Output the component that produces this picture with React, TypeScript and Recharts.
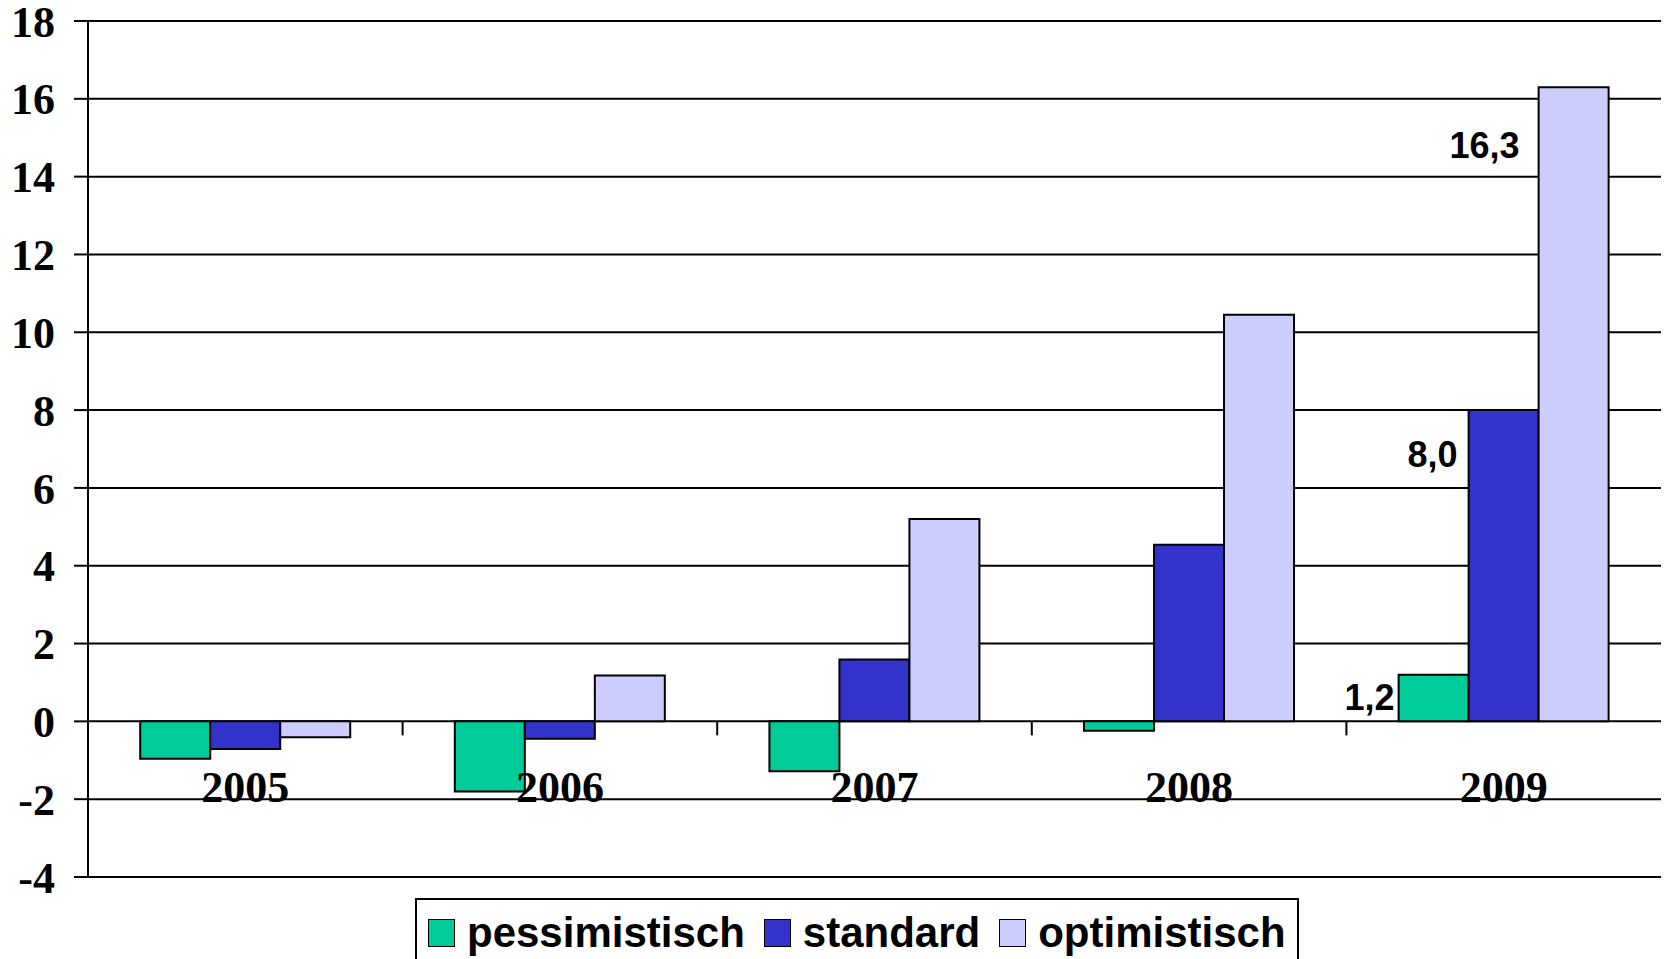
import React from "react";
import {
    BarChart,
    Bar,
    XAxis,
    YAxis,
    CartesianGrid,
    Legend,
    LabelList,
} from "recharts";

const categories = ["2005", "2006", "2007", "2008", "2009"];
const pessimistisch = [-0.96, -1.8, -1.28, -0.24, 1.2];
const standard = [-0.71, -0.45, 1.59, 4.54, 8.0];
const optimistisch = [-0.41, 1.18, 5.2, 10.45, 16.3];
const yTicks = [-4, -2, 0, 2, 4, 6, 8, 10, 12, 14, 16, 18];
const labelledYear = "2009";

const seriesNames = ["pessimistisch", "standard", "optimistisch"];
const seriesColors = ["#00CC99", "#3333CC", "#CCCCFF"];

const data = categories.map((year, i) => ({
    year,
    pessimistisch: pessimistisch[i],
    standard: standard[i],
    optimistisch: optimistisch[i],
}));

const W = 1667;
const H = 959;
const M_TOP = 21;
const M_RIGHT = 6;
const Y_AXIS_W = 88;
const X_AXIS_H = 82;
const PLOT_H = H - M_TOP - X_AXIS_H;
const PLOT_W = W - Y_AXIS_W - M_RIGHT;
const Y_MIN = -4;
const Y_MAX = 18;
const ZERO_Y = M_TOP + ((Y_MAX - 0) / (Y_MAX - Y_MIN)) * PLOT_H;

const serif = '"Liberation Serif", "Times New Roman", serif';
const sans = '"Liberation Sans", Arial, sans-serif';

// category labels sit just under the zero line, ticks mark the group borders
function YearTick(props: any) {
    const { x, payload, index } = props;
    const half = payload.offset ?? PLOT_W / categories.length / 2;
    return (
        <g>
            {index > 0 && (
                <line
                    x1={x - half}
                    x2={x - half}
                    y1={ZERO_Y}
                    y2={ZERO_Y + 14}
                    stroke="#000"
                    strokeWidth={2}
                />
            )}
            <text
                x={x}
                y={ZERO_Y + 66}
                textAnchor="middle"
                dominantBaseline="central"
                fontFamily={serif}
                fontWeight="bold"
                fontSize={44}
                fill="#000"
            >
                {payload.value}
            </text>
        </g>
    );
}

const labelPlacement = [
    { gap: 4, dy: 23 },
    { gap: 11, dy: 44 },
    { gap: 19, dy: 58 },
];

function makeValueLabel(s: number) {
    return (props: any) => {
        const { x, y, value, index } = props;
        if (categories[index] !== labelledYear) return null;
        const p = labelPlacement[s];
        return (
            <text
                x={x - p.gap}
                y={y + p.dy}
                textAnchor="end"
                dominantBaseline="central"
                fontFamily={sans}
                fontWeight="bold"
                fontSize={36}
                fill="#000"
            >
                {Number(value).toFixed(1).replace(".", ",")}
            </text>
        );
    };
}

function LegendBox() {
    return (
        <div
            style={{
                border: "2px solid #000",
                width: 884,
                height: 80,
                boxSizing: "border-box",
                display: "flex",
                alignItems: "flex-start",
                paddingLeft: 11,
                paddingTop: 16,
                background: "#fff",
            }}
        >
            {seriesNames.map((name, i) => (
                <div
                    key={name}
                    style={{
                        display: "flex",
                        alignItems: "center",
                        marginRight: 19,
                    }}
                >
                    <div
                        style={{
                            width: 27,
                            height: 28,
                            boxSizing: "border-box",
                            background: seriesColors[i],
                            border: "1.5px solid #000",
                            marginRight: 12,
                        }}
                    />
                    <span
                        style={{
                            fontFamily: sans,
                            fontWeight: "bold",
                            fontSize: 42,
                            lineHeight: "34px",
                            color: "#000",
                        }}
                    >
                        {name}
                    </span>
                </div>
            ))}
        </div>
    );
}

export default function App() {
    return (
        <div
            style={{
                position: "absolute",
                left: 0,
                top: 0,
                width: W,
                height: H,
                overflow: "hidden",
                background: "#fff",
            }}
        >
            <BarChart
                width={W}
                height={H}
                data={data}
                margin={{ top: M_TOP, right: M_RIGHT, bottom: 0, left: 0 }}
                barCategoryGap="16.6%"
                barGap={0}
            >
                <CartesianGrid
                    vertical={false}
                    stroke="#000"
                    strokeWidth={2}
                />
                <XAxis
                    dataKey="year"
                    height={X_AXIS_H}
                    axisLine={false}
                    tickLine={false}
                    tick={<YearTick />}
                    interval={0}
                />
                <YAxis
                    width={Y_AXIS_W}
                    domain={[Y_MIN, Y_MAX]}
                    ticks={yTicks}
                    interval={0}
                    axisLine={{ stroke: "#000", strokeWidth: 2 }}
                    tickLine={{ stroke: "#000", strokeWidth: 2 }}
                    tickSize={14}
                    tickMargin={19}
                    tick={{
                        fill: "#000",
                        fontSize: 44,
                        fontFamily: serif,
                        fontWeight: "bold",
                    }}
                />
                <YAxis
                    yAxisId="frame"
                    orientation="right"
                    width={0}
                    tick={false}
                    tickLine={false}
                    axisLine={{ stroke: "#000", strokeWidth: 2 }}
                />
                {seriesNames.map((name, i) => (
                    <Bar
                        key={name}
                        dataKey={name}
                        fill={seriesColors[i]}
                        stroke="#000"
                        strokeWidth={2}
                        isAnimationActive={false}
                    >
                        <LabelList dataKey={name} content={makeValueLabel(i)} />
                    </Bar>
                ))}
                <Legend
                    layout="horizontal"
                    verticalAlign="middle"
                    align="center"
                    wrapperStyle={{ left: 415, top: 898, width: 884 }}
                    content={() => <LegendBox />}
                />
            </BarChart>
        </div>
    );
}
